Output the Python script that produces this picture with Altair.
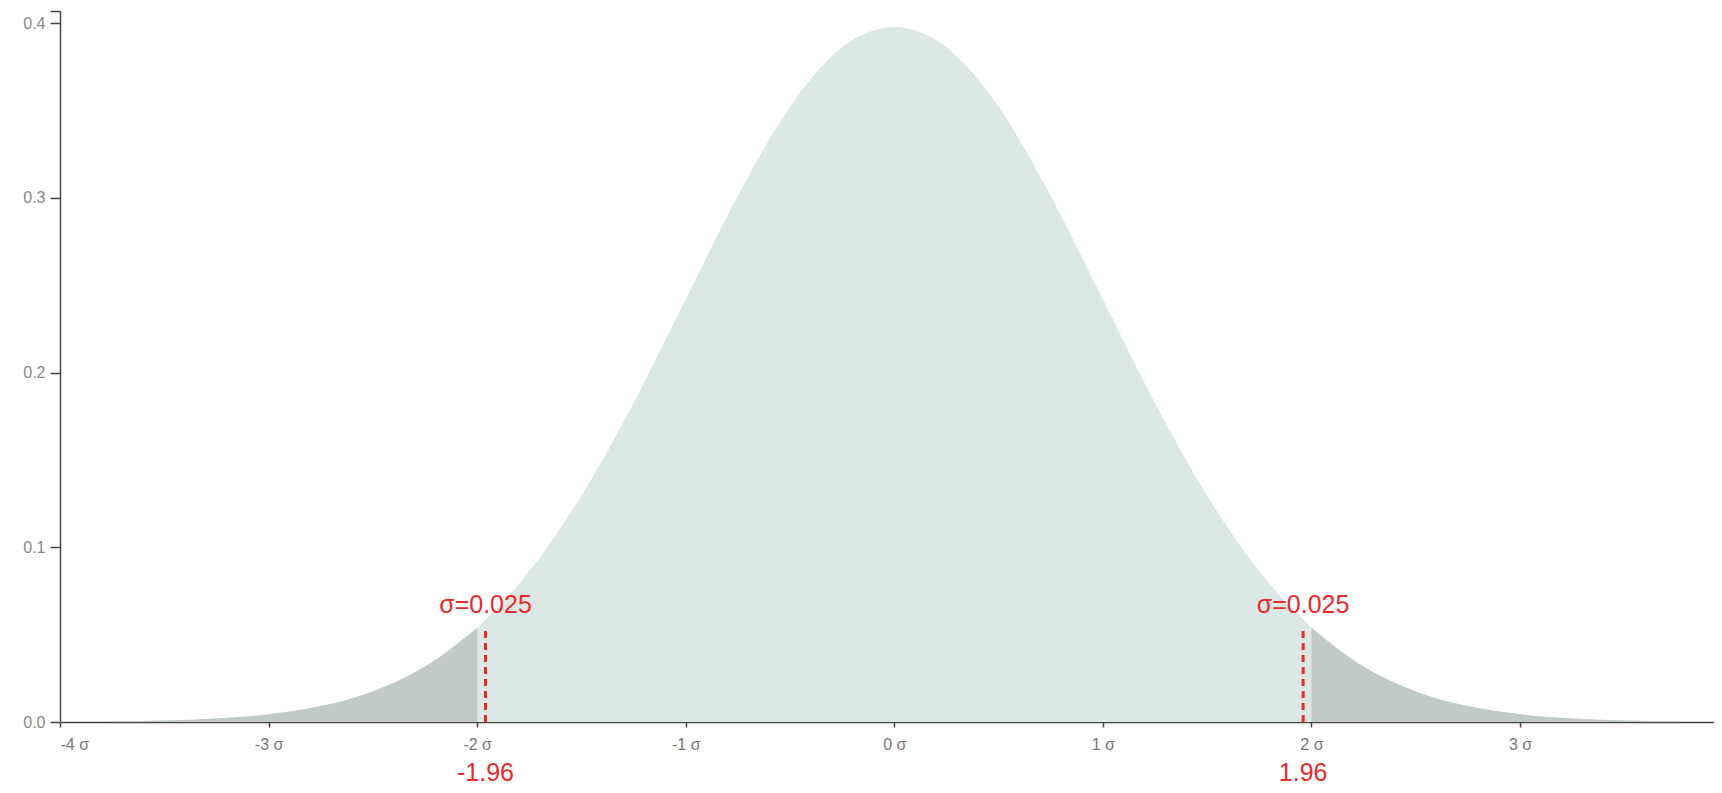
import altair as alt
import pandas as pd

# curve (x in sigma units, density)
x_vals = [-4.0, -3.75, -3.5, -3.25, -3.0, -2.75, -2.5, -2.25, -2.0, -1.75, -1.5, -1.25, -1.0,
          -0.75, -0.5, -0.25, 0.0, 0.25, 0.5, 0.75, 1.0, 1.25, 1.5, 1.75, 2.0, 2.25, 2.5,
          2.75, 3.0, 3.25, 3.5, 3.75, 4.0]
density = [0.0001, 0.0004, 0.0009, 0.0020, 0.0044, 0.0091, 0.0175, 0.0317, 0.0540, 0.0863,
           0.1295, 0.1826, 0.2420, 0.3011, 0.3521, 0.3862, 0.3978, 0.3862, 0.3521, 0.3011,
           0.2420, 0.1826, 0.1295, 0.0863, 0.0540, 0.0317, 0.0175, 0.0091, 0.0044, 0.0020,
           0.0009, 0.0004, 0.0001]

cut_x = [-1.96, 1.96]
cut_h = [0.054, 0.054]
cut_labels = ["-1.96", "1.96"]
top_labels = ["σ=0.025", "σ=0.025"]

x_ticks = [-4, -3, -2, -1, 0, 1, 2, 3]
y_ticks = [0.0, 0.1, 0.2, 0.3, 0.4, 0.407]

curve = pd.DataFrame({"x": x_vals, "y": density})
cuts = pd.DataFrame({"x": cut_x, "h": cut_h, "low": cut_labels, "top": top_labels})

W, H = 1654, 711
RED = "#e82a2a"
FONT = "Arial"

xs = alt.Scale(domain=[-4, 3.93], nice=False, zero=False)
ys = alt.Scale(domain=[0, 0.407], nice=False)

x_axis = alt.Axis(values=x_ticks, labelExpr="datum.value + ' σ'", title=None, grid=False,
                  tickSize=5, labelPadding=9, labelFontSize=16, labelColor="#777",
                  labelFont=FONT, domainColor="#444", tickColor="#444", domainWidth=1.5,
                  tickWidth=1.5)
y_axis = alt.Axis(values=y_ticks, labelExpr="datum.value > 0.405 ? '' : format(datum.value, '.1f')",
                  title=None, grid=False, tickSize=10, labelPadding=5, labelFontSize=16,
                  labelColor="#888", labelFont=FONT, domainColor="#444", tickColor="#444",
                  domainWidth=1.5, tickWidth=1.5)

base = alt.Chart(curve)

main = base.mark_area(color="#dbe8e5", interpolate="monotone", clip=True).encode(
    x=alt.X("x:Q", scale=xs, axis=x_axis),
    y=alt.Y("y:Q", scale=ys, axis=y_axis),
)

left_tail = base.transform_filter(alt.datum.x <= -2).mark_area(
    color="#c1cac8", interpolate="monotone", clip=True).encode(
    x=alt.X("x:Q", scale=xs), y=alt.Y("y:Q", scale=ys))

right_tail = base.transform_filter(alt.datum.x >= 2).mark_area(
    color="#c1cac8", interpolate="monotone", clip=True).encode(
    x=alt.X("x:Q", scale=xs), y=alt.Y("y:Q", scale=ys))

cbase = alt.Chart(cuts).transform_calculate(zero="0")

dashes = cbase.mark_rule(color=RED, strokeWidth=3, strokeDash=[7, 5]).encode(
    x=alt.X("x:Q", scale=xs), y=alt.Y("zero:Q", scale=ys), y2="h:Q")

top_text = cbase.mark_text(color=RED, fontSize=25, font=FONT, dy=-23).encode(
    x=alt.X("x:Q", scale=xs), y=alt.Y("h:Q", scale=ys), text="top:N")

low_text = cbase.mark_text(color=RED, fontSize=25, font=FONT, dy=51).encode(
    x=alt.X("x:Q", scale=xs), y=alt.Y("zero:Q", scale=ys), text="low:N")

chart = alt.layer(main, left_tail, right_tail, dashes, top_text, low_text).properties(
    width=W, height=H,
    autosize=alt.AutoSizeParams(type="none"),
    padding={"left": 52, "top": 3, "right": 0, "bottom": 63},
).configure_view(stroke=None)

chart.save("out.html", embed_options={"renderer": "svg", "actions": False})
